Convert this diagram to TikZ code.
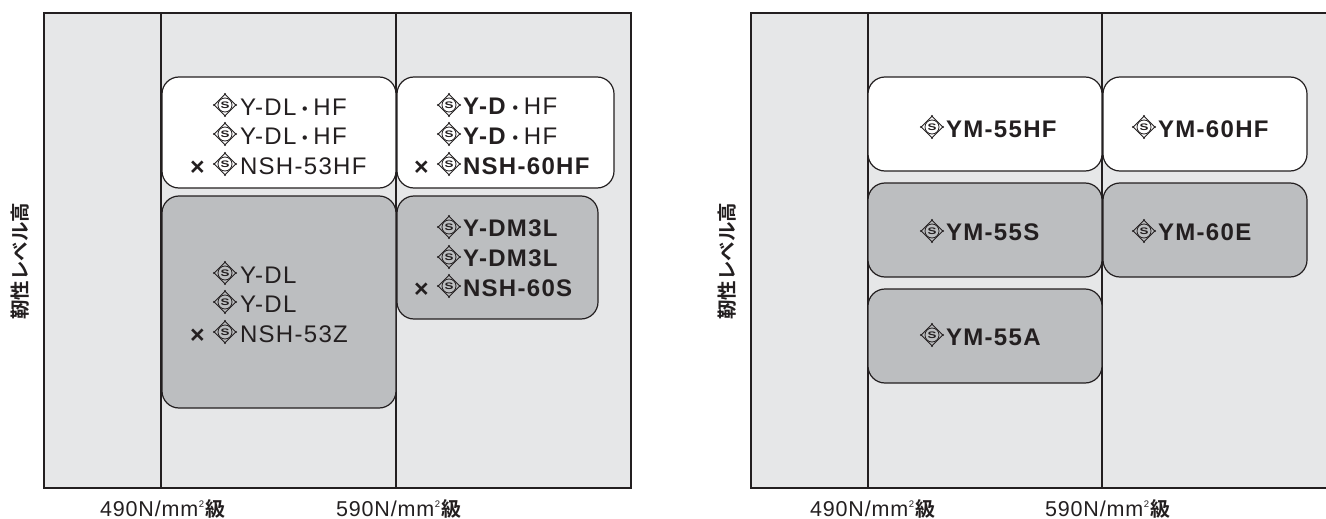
\documentclass[tikz,border=0pt]{standalone}
\usepackage{fontspec}
\setmainfont[LetterSpace=5.5]{Liberation Sans}
\newfontfamily\cjk[BoldFont={Noto Sans CJK JP Bold}]{Noto Sans CJK JP}
\newfontfamily\axisfont[LetterSpace=4]{Liberation Sans}
\definecolor{ink}{HTML}{231F20}
\definecolor{panelbg}{HTML}{E6E7E8}
\definecolor{tone}{HTML}{BCBEC0}
\newcommand{\middot}{{\cjk\bfseries\fontsize{17}{17}\selectfont ・}}
\newcommand{\grd}{\kern1.5pt{\cjk\bfseries\fontsize{20}{20}\selectfont 級}}
\newcommand{\sqr}{\kern.5pt\raisebox{8.5pt}{\fontsize{9.5}{9.5}\selectfont 2}}
\tikzset{
  panel/.style={draw=ink,line width=1.4pt,fill=panelbg},
  divider/.style={draw=ink,line width=1.4pt},
  whitebox/.style={draw=ink,line width=1.2pt,fill=white,rounded corners=17pt},
  graybox/.style={draw=ink,line width=1.2pt,fill=tone,rounded corners=17pt},
  grade/.style={anchor=base west,inner sep=0pt,outer sep=0pt,text=ink,font=\fontsize{24}{24}\selectfont},
  crossmark/.style={anchor=base west,inner sep=0pt,outer sep=0pt,text=ink,font=\fontsize{25}{25}\bfseries\selectfont},
  axis/.style={anchor=base west,inner sep=0pt,outer sep=0pt,text=ink,font=\axisfont\fontsize{21.5}{21.5}\selectfont},
  toughness/.style={rotate=90,inner sep=0pt,text=ink,font=\cjk\bfseries\fontsize{19.5}{19.5}\selectfont},
  mark line/.style={draw=ink,line width=.8pt},
  mark letter/.style={inner sep=0pt,xscale=1.4,text=ink,font=\fontsize{9.5}{9.5}\bfseries\selectfont}
}
\newcommand{\brand}[3]{%
  \path[mark line,line join=round] (#1,#2-10.8)--(#1+10.8,#2)--(#1,#2+10.8)--(#1-10.8,#2)--cycle;
  \path[mark line] (#1,#2) circle (7pt);
  \path[fill=ink] (#1,#2-11) circle (1.1pt) (#1+11,#2) circle (1.1pt) (#1,#2+11) circle (1.1pt) (#1-11,#2) circle (1.1pt);
  \node[mark letter] (#3) at (#1,#2) {S};
}
\begin{document}
\begin{tikzpicture}[x=1pt,y=-1pt]
\useasboundingbox (0,0) rectangle (1326,519);
% left panel
\path[panel] (44,13) rectangle (631,488);
\path[divider] (161,13) -- (161,488);
\path[divider] (396,13) -- (396,488);
\path[whitebox] (162,77) rectangle (396,188);
\path[whitebox] (397,77) rectangle (614,188);
\path[graybox] (162,196) rectangle (396,408);
\path[graybox] (397,196) rectangle (598,319);
% right panel
\path[panel] (751,13) rectangle (1338,488);
\path[divider] (868,13) -- (868,488);
\path[divider] (1102,13) -- (1102,488);
\path[whitebox] (868,77) rectangle (1102,171);
\path[whitebox] (1103,77) rectangle (1307,171);
\path[graybox] (868,183) rectangle (1102,277);
\path[graybox] (1103,183) rectangle (1307,277);
\path[graybox] (868,289) rectangle (1102,383);
% left white 1
\brand{225}{105}{m1}\node[grade] (t1) at (240,115) {Y-DL\middot HF};
\brand{225}{134}{m2}\node[grade] (t2) at (240,144) {Y-DL\middot HF};
\brand{225}{164}{m3}\node[grade] (t3) at (240,174) {NSH-53HF};
\node[crossmark] (x1) at (190,175) {×};
% left white 2
\brand{449}{105}{m4}\node[grade] (t4) at (463,114) {\textbf{Y-D}\middot HF};
\brand{449}{134}{m5}\node[grade] (t5) at (463,144) {\textbf{Y-D}\middot HF};
\brand{449}{164}{m6}\node[grade] (t6) at (463,174) {\textbf{NSH-60HF}};
\node[crossmark] (x2) at (414,175) {×};
% left gray 1
\brand{225}{273}{m7}\node[grade] (t7) at (240,283) {Y-DL};
\brand{225}{302}{m8}\node[grade] (t8) at (240,312) {Y-DL};
\brand{225}{332}{m9}\node[grade] (t9) at (240,342) {NSH-53Z};
\node[crossmark] (x3) at (190,343) {×};
% left gray 2
\brand{449}{227}{m10}\node[grade] (t10) at (463,236) {\textbf{Y-DM3L}};
\brand{449}{257}{m11}\node[grade] (t11) at (463,266) {\textbf{Y-DM3L}};
\brand{449}{286}{m12}\node[grade] (t12) at (463,296) {\textbf{NSH-60S}};
\node[crossmark] (x4) at (414,297) {×};
% right panel labels
\brand{932}{127}{m13}\node[grade] (t13) at (946,137) {\textbf{YM-55HF}};
\brand{1144}{127}{m14}\node[grade] (t14) at (1158,137) {\textbf{YM-60HF}};
\brand{932}{231}{m15}\node[grade] (t15) at (946,240) {\textbf{YM-55S}};
\brand{1144}{231}{m16}\node[grade] (t16) at (1158,240) {\textbf{YM-60E}};
\brand{932}{335}{m17}\node[grade] (t17) at (946,345) {\textbf{YM-55A}};
% axes
\node[toughness] (y1) at (20,261) {靭性レベル高};
\node[toughness] (y2) at (727,261) {靭性レベル高};
\node[axis] (a1) at (100,516) {490N/mm\sqr\grd};
\node[axis] (a2) at (336,516) {590N/mm\sqr\grd};
\node[axis] (a3) at (810,516) {490N/mm\sqr\grd};
\node[axis] (a4) at (1045,516) {590N/mm\sqr\grd};
\end{tikzpicture}
\end{document}
